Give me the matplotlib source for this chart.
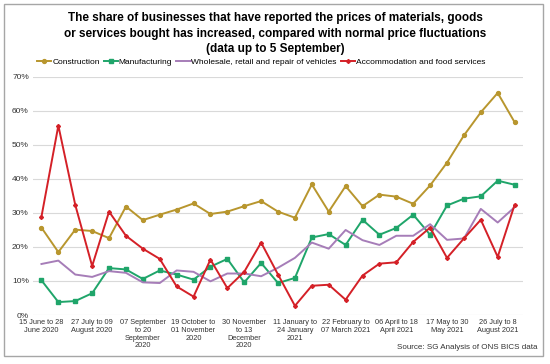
import numpy as np
import matplotlib
matplotlib.use('Agg')
from matplotlib import pyplot as plt
from matplotlib.patches import Rectangle

plt.rcParams['font.family'] = ['Liberation Sans', 'DejaVu Sans']

# fortnightly periods, 15 June 2020 to 22 August 2021 (29 points)
construction = [25.7, 18.5, 25.1, 24.7, 22.6, 31.9, 27.9, 29.5, 31.0, 32.8,
                29.7, 30.4, 32.0, 33.5, 30.4, 28.6, 38.4, 30.4, 37.9, 32.0,
                35.4, 34.8, 32.7, 38.1, 44.8, 52.8, 59.6, 65.3, 56.7]
manufacturing = [10.2, 3.8, 4.1, 6.4, 13.8, 13.4, 10.6, 13.1, 11.9, 10.4,
                 14.2, 16.5, 9.6, 15.3, 9.4, 10.9, 22.8, 23.8, 20.6, 28.0,
                 23.6, 25.6, 29.5, 23.6, 32.2, 34.2, 34.9, 39.5, 38.3]
wholesale = [15.0, 16.0, 11.9, 11.2, 12.9, 12.4, 9.6, 9.4, 13.1, 12.7,
             9.9, 12.2, 12.2, 11.4, 13.9, 16.8, 21.3, 19.5, 25.0, 22.0,
             20.6, 23.3, 23.3, 26.7, 22.1, 22.5, 31.2, 27.2, 31.7]
accommodation = [28.9, 55.7, 32.4, 14.4, 30.4, 23.3, 19.5, 16.5, 8.4, 5.4,
                 16.3, 7.9, 12.7, 21.3, 11.9, 2.7, 8.6, 8.9, 4.5, 11.6,
                 15.1, 15.5, 21.5, 25.7, 16.8, 22.5, 28.0, 17.1, 32.4]

tick_labels = ['15 June to 28\nJune 2020', '27 July to 09\nAugust 2020',
               '07 September\nto 20\nSeptember\n2020', '19 October to\n01 November\n2020',
               '30 November\nto 13\nDecember\n2020', '11 January to\n24 January\n2021',
               '22 February to\n07 March 2021', '06 April to 18\nApril 2021',
               '17 May to 30\nMay 2021', '26 July to 8\nAugust 2021']

x = np.arange(len(construction))

fig = plt.figure(figsize=(5.5, 3.64), dpi=100)
ax = fig.add_axes([0.06, 0.1346, 0.891, 0.654])

ax.plot(x, construction, color='#B8962E', lw=1.4, marker='o', ms=2.8, label='Construction')
ax.plot(x, manufacturing, color='#1FA56A', lw=1.4, marker='s', ms=2.8, label='Manufacturing')
ax.plot(x, wholesale, color='#A67DB8', lw=1.4, label='Wholesale, retail and repair of vehicles')
ax.plot(x, accommodation, color='#D42027', lw=1.4, marker='D', ms=2, label='Accommodation and food services')

ax.set_xlim(-0.5, len(x) - 0.5)
ax.set_ylim(0, 70)
ax.set_yticks(np.arange(0, 71, 10))
ax.set_yticklabels([f'{v}%' for v in range(0, 71, 10)], fontsize=6, color='#333333')
ax.set_xticks(x[::3])
ax.set_xticklabels(tick_labels, fontsize=5.3, linespacing=1.15, color='#333333')
ax.tick_params(length=0, pad=3)
ax.grid(axis='y', color='#d9d9d9', lw=0.8)
ax.set_axisbelow(True)
for s in ax.spines.values():
    s.set_visible(False)

fig.text(0.5, 0.967, 'The share of businesses that have reported the prices of materials, goods\n'
         'or services bought has increased, compared with normal price fluctuations\n'
         '(data up to 5 September)', ha='center', va='top', fontsize=8.5, fontweight='bold',
         linespacing=1.4)
fig.legend(loc='center', bbox_to_anchor=(0.475, 0.83), ncol=4, fontsize=6, frameon=False,
           handlelength=1.7, handletextpad=0.1, columnspacing=0.5)
fig.text(0.977, 0.035, 'Source: SG Analysis of ONS BICS data', ha='right', va='bottom',
         fontsize=5.8, color='#333333')

fig.patches.append(Rectangle((0.007, 0.022), 0.98, 0.966, transform=fig.transFigure,
                             fill=False, edgecolor='#a6a6a6', lw=1))

fig.savefig('out.png', dpi=100)
